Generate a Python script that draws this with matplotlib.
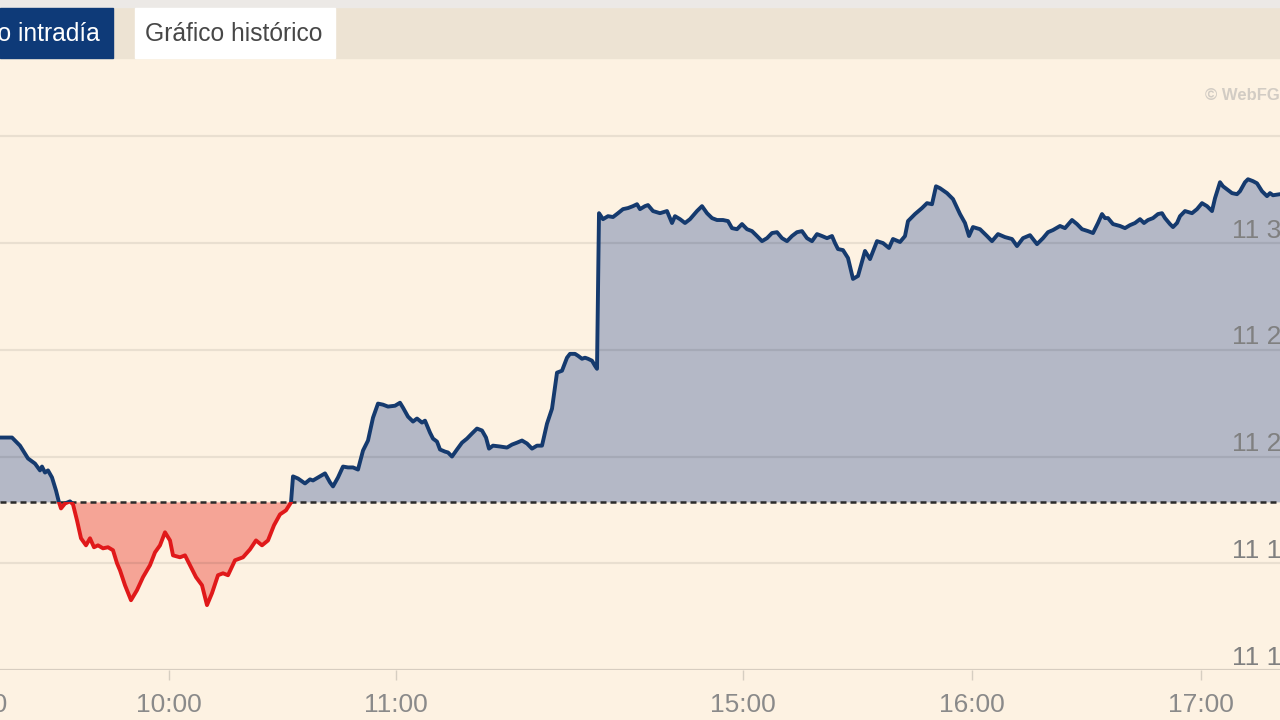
"""
Gráfico intradía: cotización vs cierre anterior (réplica de captura)
"""
import numpy as np
import matplotlib
matplotlib.use("Agg")
import matplotlib.pyplot as plt
from matplotlib.patches import Rectangle

plt.rcParams["font.family"] = ["Liberation Sans", "DejaVu Sans"]

# ── datos ──
# índice de barra en el eje comprimido (la sesión tiene un hueco 11:xx–14:xx)
bar_idx = [
    -5, 0, 12, 20, 28, 35, 40, 42, 45, 48, 52, 56, 59, 61, 65, 70, 73, 77, 81, 86,
    90, 94, 98, 103, 108, 113, 117, 120, 125, 131, 137, 143, 150, 155, 160, 165, 170, 173, 180, 185,
    190, 196, 202, 207, 212, 218, 223, 228, 235, 243, 250, 256, 262, 268, 274, 280, 286, 291, 293, 298,
    305, 310, 313, 318, 325, 330, 333, 338, 343, 348, 353, 358, 363, 368, 373, 378, 383, 388, 395, 400,
    403, 408, 413, 417, 422, 425, 430, 433, 437, 440, 445, 448, 452, 457, 462, 467, 472, 477, 482, 486,
    489, 493, 500, 507, 512, 517, 522, 527, 532, 537, 542, 547, 552, 557, 562, 567, 570, 575, 578, 582,
    585, 588, 592, 595, 597, 599, 603, 608, 613, 618, 623, 628, 633, 637, 640, 645, 648, 653, 660, 667,
    672, 675, 680, 685, 690, 697, 702, 707, 712, 717, 723, 728, 732, 737, 742, 747, 752, 757, 762, 767,
    772, 777, 782, 787, 792, 797, 802, 807, 812, 817, 822, 827, 832, 835, 838, 843, 848, 853, 858, 865,
    870, 877, 883, 889, 893, 900, 905, 908, 915, 922, 927, 932, 936, 940, 947, 953, 960, 965, 969, 973,
    980, 987, 992, 998, 1005, 1012, 1017, 1023, 1030, 1037, 1043, 1048, 1053, 1060, 1065, 1072, 1077, 1082, 1088, 1093,
    1098, 1102, 1105, 1108, 1113, 1120, 1125, 1130, 1135, 1140, 1144, 1148, 1153, 1158, 1162, 1165, 1170, 1173, 1177, 1180,
    1185, 1192, 1197, 1202, 1207, 1212, 1215, 1220, 1223, 1227, 1232, 1237, 1240, 1245, 1248, 1253, 1257, 1262, 1267, 1270,
    1273, 1280, 1285,
]
price = [
    11208.9, 11208.9, 11208.9, 11205.1, 11199.1, 11196.7, 11193.5, 11195.3, 11192.5, 11193.5,
    11190.2, 11184.1, 11178.5, 11175.7, 11178.0, 11179.0, 11177.6, 11170.1, 11161.7, 11158.4,
    11161.7, 11157.5, 11158.4, 11157.0, 11157.5, 11156.1, 11150.0, 11146.7, 11139.7, 11132.7,
    11137.4, 11143.5, 11149.1, 11155.1, 11158.4, 11164.5, 11160.7, 11153.7, 11152.8, 11153.7,
    11149.1, 11143.5, 11139.7, 11130.4, 11136.0, 11144.4, 11145.3, 11144.4, 11151.4, 11152.8,
    11156.5, 11160.7, 11158.4, 11160.7, 11167.8, 11172.9, 11174.8, 11178.5, 11190.7, 11189.7,
    11187.4, 11189.3, 11188.8, 11190.2, 11192.1, 11187.9, 11186.0, 11190.2, 11195.3, 11194.9,
    11194.9, 11193.9, 11202.8, 11207.5, 11218.2, 11224.8, 11224.3, 11223.4, 11223.8, 11225.2,
    11222.9, 11218.7, 11216.4, 11217.8, 11215.9, 11216.8, 11211.2, 11208.4, 11207.0, 11203.3,
    11202.3, 11201.9, 11200.0, 11203.3, 11206.5, 11208.4, 11210.8, 11213.1, 11212.2, 11208.9,
    11203.7, 11205.1, 11204.7, 11204.2, 11205.6, 11206.5, 11207.5, 11206.1, 11203.7, 11205.1,
    11205.1, 11215.4, 11222.4, 11239.3, 11240.2, 11246.3, 11248.1, 11248.1, 11247.2, 11245.8,
    11246.3, 11245.8, 11244.9, 11242.5, 11241.1, 11314.0, 11311.2, 11312.6, 11312.2, 11314.0,
    11315.9, 11316.4, 11317.3, 11318.2, 11315.9, 11317.3, 11317.8, 11315.0, 11314.0, 11315.0,
    11309.4, 11312.6, 11311.2, 11309.4, 11311.2, 11315.0, 11317.3, 11314.0, 11311.7, 11310.8,
    11310.8, 11310.3, 11307.0, 11306.5, 11308.9, 11306.5, 11305.6, 11303.3, 11300.9, 11302.3,
    11304.7, 11305.1, 11302.3, 11300.9, 11303.3, 11305.1, 11305.6, 11302.3, 11300.9, 11304.2,
    11303.3, 11302.3, 11303.3, 11300.0, 11297.2, 11296.7, 11293.0, 11283.2, 11284.6, 11296.3,
    11292.5, 11300.9, 11300.0, 11297.7, 11301.9, 11300.5, 11303.3, 11310.3, 11313.6, 11316.4,
    11318.7, 11318.2, 11326.6, 11325.7, 11323.4, 11320.6, 11313.6, 11309.4, 11303.3, 11307.5,
    11306.5, 11303.3, 11300.9, 11304.2, 11302.8, 11301.9, 11298.6, 11302.3, 11303.7, 11299.5,
    11302.3, 11305.1, 11306.1, 11308.0, 11307.0, 11310.8, 11308.9, 11306.5, 11305.6, 11304.7,
    11309.4, 11313.6, 11311.7, 11311.7, 11308.9, 11308.0, 11307.0, 11308.4, 11309.4, 11311.2,
    11309.4, 11310.8, 11311.7, 11313.6, 11314.0, 11311.7, 11308.9, 11307.5, 11309.4, 11312.6,
    11315.0, 11314.0, 11315.9, 11318.7, 11317.3, 11315.0, 11321.0, 11328.5, 11326.6, 11325.2,
    11323.4, 11322.9, 11324.3, 11328.5, 11329.9, 11329.0, 11328.0, 11324.3, 11322.0, 11323.4,
    11322.4, 11322.9, 11322.9,
]
prev_close = 11178.5
grid_levels = [11100, 11150, 11200, 11250, 11300, 11350]
ylabel_levels = [11100, 11150, 11200, 11250, 11300]
ylabel_text = ["11 100", "11 150", "11 200", "11 250", "11 300"]
hour_idx = [-18, 169, 396, 743, 972, 1201]
hour_lbl = ["9:00", "10:00", "11:00", "15:00", "16:00", "17:00"]

BG = "#FDF2E2"
FILL_UP, FILL_DN = "#B4B8C6", "#F5A496"
NAVY, RED = "#153A6E", "#E0191A"
W, H = 1280, 720

fig = plt.figure(figsize=(12.8, 7.2), dpi=100)
fig.patch.set_facecolor(BG)

# ── cabecera con pestañas ──
fig.patches.append(Rectangle((0, 1 - 58 / H), 1, 58 / H, transform=fig.transFigure,
                             color="#EDE3D3", zorder=0))
fig.patches.append(Rectangle((0, 1 - 7 / H), 1, 7 / H, transform=fig.transFigure,
                             color="#ECE9E6", zorder=0))
fig.patches.append(Rectangle((0, 1 - 58 / H), 113 / W, 50 / H, transform=fig.transFigure,
                             color="#0E3A78", zorder=1))
fig.patches.append(Rectangle((135 / W, 1 - 58 / H), 200 / W, 50 / H, transform=fig.transFigure,
                             color="#FFFFFF", zorder=1))
fig.text(100 / W, 1 - 34 / H, "Gráfico intradía", ha="right", va="center",
         color="white", fontsize=17.7)
fig.text(234 / W, 1 - 34 / H, "Gráfico histórico", ha="center", va="center",
         color="#474747", fontsize=17.7)
fig.text(1205 / W, 1 - 96 / H, "© WebFG", ha="left", va="center",
         color="#D2CCC4", fontsize=12, fontweight="bold")

# ── gráfico ──
ax = fig.add_axes([0, 50 / H, 1, 612 / H])
ax.set_facecolor(BG)
ax.set_xlim(0, 1280)
ax.set_ylim(11100, 11386.7)
for s in ax.spines.values():
    s.set_visible(False)

x = np.array(bar_idx, float)
y = np.array(price, float)
ax.fill_between(x, y, prev_close, where=y >= prev_close, interpolate=True,
                color=FILL_UP, lw=0, zorder=1)
ax.fill_between(x, y, prev_close, where=y <= prev_close, interpolate=True,
                color=FILL_DN, lw=0, zorder=1)

for lev in grid_levels:
    ax.axhline(lev, color="k", alpha=0.15 if lev == 11100 else 0.08, lw=1.6, zorder=2)

up_line, = ax.plot(x, y, color=NAVY, lw=2.8, zorder=5, solid_joinstyle="round")
dn_line, = ax.plot(x, y, color=RED, lw=2.8, zorder=5, solid_joinstyle="round")
up_line.set_clip_path(Rectangle((-100, prev_close), 1500, 1000, transform=ax.transData))
dn_line.set_clip_path(Rectangle((-100, prev_close - 1000), 1500, 1000, transform=ax.transData))

ax.axhline(prev_close, color="#2A2A2A", lw=1.8, ls=(0, (2.4, 1.6)), zorder=4)

for lev, txt in zip(ylabel_levels, ylabel_text):
    ax.text(1232, lev + 2.5, txt, ha="left", va="baseline", color="#808080",
            fontsize=19, zorder=6, clip_on=False)

ax.set_yticks([])
ax.set_xticks(hour_idx[1:])
ax.set_xticklabels([])
ax.tick_params(axis="x", length=7.5, width=1, color="#D6CEC1", direction="out")
for pos, lbl in zip(hour_idx, hour_lbl):
    ax.text(pos, -0.058, lbl, transform=ax.get_xaxis_transform(), ha="center",
            va="center", color="#8A8A8A", fontsize=19, clip_on=False)

plt.savefig("out.png", dpi=100, facecolor=fig.get_facecolor())
plt.close()
